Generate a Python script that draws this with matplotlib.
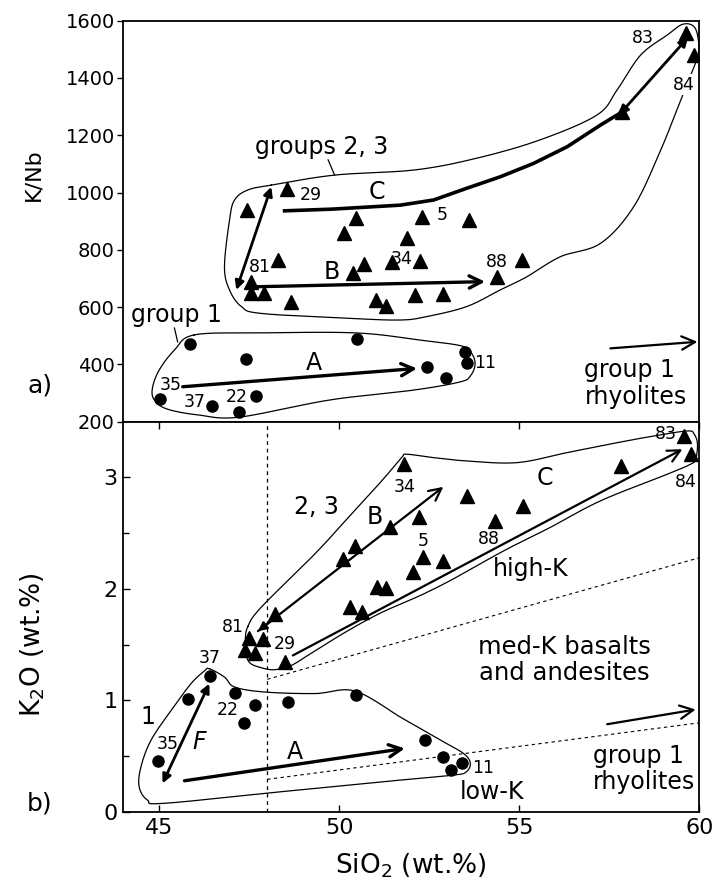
import numpy as np
import matplotlib
matplotlib.use("Agg")
import matplotlib.pyplot as plt

plt.rcParams['font.family'] = ['DejaVu Sans']
plt.rcParams['mathtext.default'] = 'regular'

# ---------------- data: panel a (K/Nb vs SiO2) ----------------
top_tri_x = [47.43, 48.56, 50.47, 50.14, 51.87, 48.31, 47.55, 47.55, 47.92, 48.65, 50.69, 50.38, 51.45,
             51.03, 51.31, 52.29, 53.59, 52.25, 52.11, 52.87, 54.38, 55.07, 57.86, 59.62, 59.86]
top_tri_y = [939, 1011, 910, 860, 840, 765, 689, 648, 650, 619, 751, 718, 759,
             625, 604, 916, 904, 762, 642, 646, 706, 765, 1282, 1558, 1480]
top_circ_x = [45.84, 47.40, 50.48, 45.02, 46.46, 47.20, 47.69, 52.43, 52.97, 53.50, 53.55]
top_circ_y = [470, 419, 488, 279, 255, 235, 291, 392, 352, 444, 404]

# envelopes (hand-drawn fields), panel a
g1a_x = [45.97, 47.79, 50.46, 52.24, 53.41, 53.69, 53.77, 53.64, 53.36, 52.10, 49.74, 47.23, 46.11,
         45.22, 44.86, 44.81, 45.00, 45.42]
g1a_y = [503, 510, 510, 485, 464, 436, 398, 360, 339, 311, 276, 216, 223, 244, 276, 318, 381, 450]
g23a_x = [48.11, 49.87, 52.10, 53.82, 55.58, 57.16, 57.72, 58.37, 59.11, 59.55, 59.88, 59.99, 59.92,
          59.76, 59.48, 58.93, 58.18, 57.26, 56.14, 55.21, 54.47, 53.54, 52.43, 51.69, 50.25, 47.83,
          47.28, 46.95, 46.81, 46.95, 47.09, 47.46]
g23a_y = [1026, 1061, 1079, 1120, 1184, 1271, 1359, 1480, 1550, 1588, 1575, 1509, 1462,
          1410, 1322, 1149, 951, 823, 776, 706, 660, 602, 567, 555, 561, 578,
          602, 660, 741, 904, 974, 1009]
# trend C (thick curve), panel a
trendC_a_x = [48.43, 49.78, 51.69, 52.62, 53.54, 54.47, 55.40, 56.33, 57.26, 57.81]
trendC_a_y = [936, 942, 956, 974, 1015, 1055, 1102, 1160, 1236, 1278]

top_labels = [("83", 58.42, 1539), ("84", 59.56, 1376), ("29", 49.22, 992), ("5", 52.85, 922),
              ("81", 47.79, 741), ("34", 51.73, 767), ("88", 54.38, 759), ("35", 45.33, 328),
              ("37", 45.97, 270), ("22", 47.14, 287), ("11", 54.05, 404)]
top_letters = [("C", 51.04, 1003), ("B", 49.78, 724), ("A", 49.30, 404)]

# ---------------- data: panel b (K2O vs SiO2) ----------------
bot_tri_x = [51.81, 51.41, 50.43, 50.10, 48.20, 47.48, 47.88, 47.37, 47.65, 48.48, 50.29, 50.64,
             51.04, 51.31, 52.06, 52.20, 53.54, 52.32, 52.89, 54.33, 55.10, 57.83, 59.58, 59.78]
bot_tri_y = [3.119, 2.552, 2.388, 2.269, 1.777, 1.562, 1.553, 1.449, 1.428, 1.344, 1.836, 1.792,
             2.015, 2.010, 2.149, 2.641, 2.835, 2.284, 2.254, 2.612, 2.746, 3.104, 3.372, 3.208]
bot_circ_x = [46.41, 45.81, 47.11, 47.35, 47.67, 48.57, 50.45, 44.95, 52.38, 52.89, 53.10, 53.40]
bot_circ_y = [1.216, 1.017, 1.070, 0.800, 0.963, 0.987, 1.046, 0.459, 0.650, 0.489, 0.376, 0.441]

g1b_x = [46.39, 46.81, 47.09, 47.92, 49.32, 50.43, 51.69, 52.10, 52.80, 53.45, 53.64, 53.52, 53.17,
         51.69, 48.39, 45.14, 44.67, 44.44, 44.49, 44.77, 45.33, 45.88, 46.25]
g1b_y = [1.285, 1.21, 1.121, 1.076, 1.062, 1.085, 0.852, 0.776, 0.646, 0.525, 0.436, 0.358, 0.331,
         0.286, 0.182, 0.078, 0.107, 0.226, 0.405, 0.644, 0.912, 1.151, 1.264]
g23b_x = [47.46, 47.83, 49.32, 50.25, 51.18, 51.73, 51.87, 52.61, 53.54, 54.94, 56.33, 57.72, 58.74,
          59.67, 59.86, 59.95, 59.90, 59.76, 59.11, 57.26, 55.86, 54.75, 53.91, 53.08, 52.24, 51.18,
          50.25, 49.30, 48.67, 48.20, 47.83, 47.53, 47.42, 47.39]
g23b_y = [1.664, 1.836, 2.314, 2.641, 2.970, 3.178, 3.208, 3.178, 3.148, 3.133, 3.223, 3.312, 3.372,
          3.417, 3.387, 3.298, 3.164, 3.119, 3.029, 2.791, 2.552, 2.373, 2.225, 2.075, 1.940, 1.790,
          1.628, 1.440, 1.315, 1.276, 1.294, 1.333, 1.404, 1.538]

# K-series boundaries (dashed)
bound_x = [48.0, 60.0]
highK_y = [1.19, 2.28]
lowK_y = [0.293, 0.80]
split_x = 48.0

bot_labels = [("83", 59.07, 3.387), ("84", 59.62, 2.955), ("34", 51.82, 2.910), ("5", 52.33, 2.433),
              ("88", 54.15, 2.448), ("81", 47.04, 1.657), ("29", 48.48, 1.503), ("37", 46.39, 1.384),
              ("22", 46.90, 0.912), ("35", 45.23, 0.614), ("11", 54.00, 0.391)]
bot_letters = [("C", 55.72, 2.999), ("B", 50.99, 2.641), ("A", 48.76, 0.539)]

xticks = [45, 50, 55, 60]
yticks_a = [200, 400, 600, 800, 1000, 1200, 1400, 1600]
yticks_b = [0, 1, 2, 3]


def smooth(xs, ys, sx, sy, closed=True, n=14):
    P = np.c_[np.asarray(xs, float) * sx, np.asarray(ys, float) * sy]
    if closed:
        P = np.vstack([P[-1], P, P[0], P[1]])
    else:
        P = np.vstack([P[0], P, P[-1]])
    t = np.linspace(0, 1, n, endpoint=False)[:, None]
    out = []
    for i in range(1, len(P) - 2):
        p0, p1, p2, p3 = P[i - 1], P[i], P[i + 1], P[i + 2]
        out.append(0.5 * (2 * p1 + (-p0 + p2) * t + (2 * p0 - 5 * p1 + 4 * p2 - p3) * t ** 2
                          + (-p0 + 3 * p1 - 3 * p2 + p3) * t ** 3))
    out.append(P[-2][None])
    out = np.vstack(out)
    return out[:, 0] / sx, out[:, 1] / sy


W, H = 718, 880
fig = plt.figure(figsize=(W / 100, H / 100), dpi=100)
L, R = 123.3, 699.3
ax1 = fig.add_axes([L / W, 1 - 421.7 / H, (R - L) / W, (421.7 - 20.7) / H])
ax2 = fig.add_axes([L / W, 1 - 812 / H, (R - L) / W, (812 - 421.7) / H])

SX = (R - L) / 16.0
SYA = (421.7 - 20.7) / 1400.0
SYB = (812 - 421.7) / 3.5

lab_fs = 12.5
let_fs = 17
grp_fs = 17

# ---------- panel a ----------
ax1.set_xlim(44, 60)
ax1.set_ylim(200, 1600)
ex, ey = smooth(g1a_x, g1a_y, SX, SYA)
ax1.plot(ex, ey, color='black', lw=0.9)
ex, ey = smooth(g23a_x, g23a_y, SX, SYA)
ax1.plot(ex, ey, color='black', lw=0.9)
ax1.plot(top_circ_x, top_circ_y, 'o', color='black', ms=8, zorder=5)
ax1.plot(top_tri_x, top_tri_y, '^', color='black', ms=9.5, zorder=5)
ax1.plot(trendC_a_x, trendC_a_y, color='black', lw=2.6, solid_capstyle='butt')

thick_open = dict(arrowstyle='->', lw=2.4, color='black', mutation_scale=22, shrinkA=0, shrinkB=0)
dbl = dict(arrowstyle='<|-|>', lw=2.0, color='black', mutation_scale=13, shrinkA=0, shrinkB=0)
thin_open = dict(arrowstyle='->', lw=1.6, color='black', mutation_scale=24, shrinkA=0, shrinkB=0)

ax1.annotate('', xy=(52.16, 386), xytext=(45.65, 322), arrowprops=thick_open)
ax1.annotate('', xy=(54.05, 689), xytext=(47.65, 671), arrowprops=thick_open)
ax1.annotate('', xy=(59.69, 1542), xytext=(57.77, 1271), arrowprops=dbl)
ax1.annotate('', xy=(48.11, 1020), xytext=(47.14, 660), arrowprops=dbl)
ax1.annotate('', xy=(59.95, 479), xytext=(57.53, 456), arrowprops=thin_open)
# leader lines
ax1.plot([45.42, 45.51], [527, 479], color='black', lw=0.9)
ax1.plot([49.69, 49.87], [1114, 1061], color='black', lw=0.9)

for t, x, y in top_labels:
    kw = dict(ha='center', va='center', fontsize=lab_fs, zorder=6)
    if t == "84":
        kw['bbox'] = dict(facecolor='white', edgecolor='none', pad=1)
    ax1.text(x, y, t, **kw)
for t, x, y in top_letters:
    ax1.text(x, y, t, ha='center', va='center', fontsize=let_fs)
ax1.text(49.50, 1160, "groups 2, 3", ha='center', va='center', fontsize=grp_fs)
ax1.text(45.47, 573, "group 1", ha='center', va='center', fontsize=grp_fs)
ax1.text(56.81, 332, "group 1\nrhyolites", ha='left', va='center', fontsize=grp_fs,
         linespacing=1.15)

ax1.set_yticks(yticks_a)
ax1.set_yticklabels([str(v) for v in yticks_a], fontsize=14)
ax1.tick_params(axis='y', direction='out', length=4, width=1, pad=2)
ax1.tick_params(axis='x', bottom=False, labelbottom=False)

# ---------- panel b ----------
ax2.set_xlim(44, 60)
ax2.set_ylim(0, 3.5)
ax2.axvline(split_x, color='black', lw=0.9, ls=(0, (3, 3)))
ax2.plot(bound_x, highK_y, color='black', lw=0.8, ls=(0, (3, 3)))
ax2.plot(bound_x, lowK_y, color='black', lw=0.8, ls=(0, (3, 3)))
ex, ey = smooth(g1b_x, g1b_y, SX, SYB)
ax2.plot(ex, ey, color='black', lw=0.9)
ex, ey = smooth(g23b_x, g23b_y, SX, SYB)
ax2.plot(ex, ey, color='black', lw=0.9)
ax2.plot(bot_circ_x, bot_circ_y, 'o', color='black', ms=8, zorder=5)
ax2.plot(bot_tri_x, bot_tri_y, '^', color='black', ms=9.5, zorder=5)

mid_open = dict(arrowstyle='->', lw=1.6, color='black', mutation_scale=22, shrinkA=0, shrinkB=0)
ax2.annotate('', xy=(51.82, 0.570), xytext=(45.70, 0.280), arrowprops=thick_open)
ax2.annotate('', xy=(46.39, 1.151), xytext=(45.09, 0.257), arrowprops=dbl)
ax2.annotate('', xy=(52.89, 2.916), xytext=(47.74, 1.622), arrowprops=mid_open)
ax2.annotate('', xy=(47.74, 1.622), xytext=(48.3, 1.76),
             arrowprops=dict(arrowstyle='-|>', lw=1.6, color='black', mutation_scale=13,
                             shrinkA=0, shrinkB=0))
ax2.annotate('', xy=(59.53, 3.253), xytext=(48.71, 1.404), arrowprops=mid_open)
ax2.annotate('', xy=(59.90, 0.919), xytext=(57.44, 0.787), arrowprops=thin_open)

for t, x, y in bot_labels:
    ax2.text(x, y, t, ha='center', va='center', fontsize=lab_fs, zorder=6)
for t, x, y in bot_letters:
    ax2.text(x, y, t, ha='center', va='center', fontsize=let_fs)
ax2.text(46.11, 0.629, "F", ha='center', va='center', fontsize=let_fs, style='italic')
ax2.text(49.37, 2.737, "2, 3", ha='center', va='center', fontsize=grp_fs)
ax2.text(44.67, 0.852, "1", ha='center', va='center', fontsize=grp_fs)
ax2.text(55.31, 2.180, "high-K", ha='center', va='center', fontsize=grp_fs)
ax2.text(56.25, 1.36, "med-K basalts\nand andesites", ha='center', va='center', fontsize=17.5,
         linespacing=1.1)
ax2.text(54.24, 0.182, "low-K", ha='center', va='center', fontsize=grp_fs)
ax2.text(57.04, 0.385, "group 1\nrhyolites", ha='left', va='center', fontsize=grp_fs,
         linespacing=1.15)

ax2.set_xticks(xticks)
ax2.set_xticklabels([str(v) for v in xticks], fontsize=16)
ax2.set_yticks(yticks_b)
ax2.set_yticklabels([str(v) for v in yticks_b], fontsize=16)
ax2.set_yticks([0.5, 1.5, 2.5], minor=True)
ax2.tick_params(axis='both', which='major', direction='in', length=5, width=1, top=True, pad=4)
ax2.tick_params(axis='y', which='minor', direction='in', length=4, width=1)

for ax in (ax1, ax2):
    for s in ax.spines.values():
        s.set_linewidth(1.3)

fig.text(411 / W, 1 - 866 / H, "SiO$_2$ (wt.%)", ha='center', va='center', fontsize=19)
fig.text(33 / W, 1 - 175 / H, "K/Nb", ha='center', va='center', fontsize=16, rotation=90)
fig.text(33 / W, 1 - 645 / H, "K$_2$O (wt.%)", ha='center', va='center', fontsize=19, rotation=90)
fig.text(40 / W, 1 - 385 / H, "a)", ha='center', va='center', fontsize=18)
fig.text(40 / W, 1 - 803 / H, "b)", ha='center', va='center', fontsize=18)

fig.savefig("out.png", dpi=100)
